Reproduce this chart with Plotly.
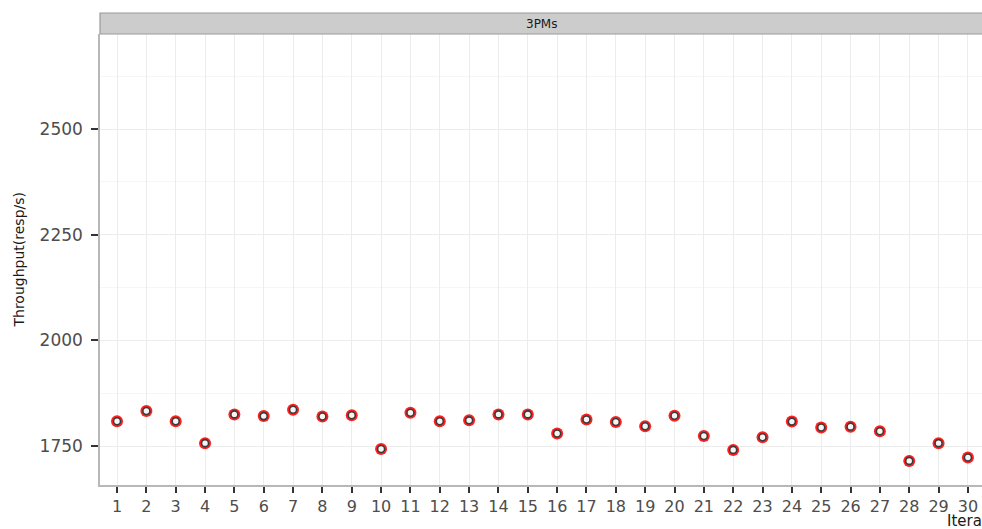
import plotly.graph_objects as go

iterations = list(range(1, 31))
throughput = [1809, 1833, 1809, 1757, 1825, 1821, 1836, 1820, 1823, 1743,
              1829, 1809, 1811, 1825, 1825, 1780, 1813, 1807, 1797, 1822,
              1774, 1741, 1771, 1808, 1794, 1796, 1785, 1715, 1757, 1723]
err = [4, 4, 4, 4, 4, 4, 4, 4, 4, 4,
       5, 5, 4, 4, 4, 6, 5, 5, 5, 5,
       7, 5, 6, 5, 5, 7, 7, 10, 8, 10]
tick_labels = [str(i) for i in iterations]
y_ticks = [1750, 2000, 2250, 2500]
panel_label = "3PMs"
x_title = "Iteration"
y_title = "Throughput(resp/s)"

W, H = 982, 529
L, R, T, B = 100, 0, 34, 44
pw = W - L - R
ph = H - T - B

fig = go.Figure()
fig.add_trace(go.Scatter(
    x=iterations, y=throughput, mode="markers",
    error_y=dict(type="data", array=err, color="#ff1a1a", thickness=2.2, width=1.5),
    marker=dict(color="#ff2020", size=12, line=dict(width=0)),
    showlegend=False, hoverinfo="skip"))
fig.add_trace(go.Scatter(
    x=iterations, y=throughput, mode="markers",
    marker=dict(symbol="circle", color="#f4f4f4", size=7, line=dict(width=1.6, color="#3a3a3a")),
    showlegend=False))

tickfont = dict(family="DejaVu Sans", size=16, color="#4d4d4d")
fig.update_layout(
    width=W, height=H,
    margin=dict(l=L, r=R, t=T, b=B, pad=0),
    paper_bgcolor="white", plot_bgcolor="white",
    xaxis=dict(range=[0.42, 30.48], tickvals=iterations, ticktext=tick_labels,
               showgrid=True, gridcolor="#ececec", gridwidth=1.2, zeroline=False,
               showline=True, linecolor="#b8b8b8", linewidth=1.5,
               ticks="outside", ticklen=6, tickwidth=2, tickcolor="#333333",
               tickfont=tickfont),
    yaxis=dict(range=[1658, 2725], tickvals=y_ticks,
               showgrid=True, gridcolor="#ececec", gridwidth=1.2, zeroline=False,
               minor=dict(dtick=125, tick0=1625, showgrid=True, gridcolor="#f6f6f6", gridwidth=1),
               showline=True, linecolor="#b8b8b8", linewidth=1.5,
               ticks="outside", ticklen=7, tickwidth=1.5, tickcolor="#333333",
               tickfont=dict(family="DejaVu Sans", size=17, color="#4d4d4d"),
               ticklabelstandoff=5),
)

strip_h = 21
fig.add_shape(type="rect", xref="paper", yref="paper",
              x0=0, x1=1.01, y0=1, y1=1 + strip_h / ph,
              fillcolor="#cccccc", line=dict(color="#9a9a9a", width=1.2))
fig.add_annotation(text=panel_label, xref="paper", yref="paper",
                   x=(541 - L) / pw, y=1 + (strip_h / 2) / ph,
                   xanchor="center", yanchor="middle", showarrow=False,
                   font=dict(family="DejaVu Sans", size=12, color="#1a1a1a"))
fig.add_annotation(text=y_title, xref="paper", yref="paper",
                   x=(18 - L) / pw, y=0.5, textangle=-90,
                   xanchor="center", yanchor="middle", showarrow=False,
                   font=dict(family="DejaVu Sans", size=14, color="#1a1a1a"))
fig.add_annotation(text=x_title, xref="paper", yref="paper",
                   x=(945 - L) / pw, y=-(521 - (T + ph)) / ph,
                   xanchor="left", yanchor="middle", showarrow=False,
                   font=dict(family="DejaVu Sans", size=15, color="#1a1a1a"))

fig.write_html("out.html", config={"displayModeBar": False},
               post_script="document.body.style.margin='0';document.body.style.overflow='hidden';")
